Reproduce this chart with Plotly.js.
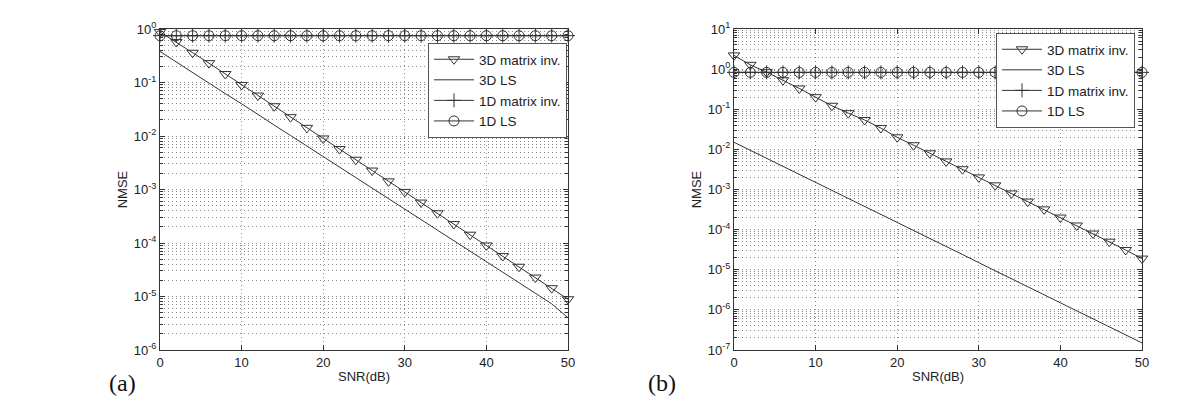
<!DOCTYPE html>
<html>
<head>
<meta charset="utf-8">
<script src="https://cdn.plot.ly/plotly-3.0.1.min.js"></script>
<style>html,body{margin:0;padding:0;background:#fff;}#chart{width:1200px;height:419px;}</style>
</head>
<body>
<div id="chart"></div>
<script>
// ---- data ----
const snr = [0,2,4,6,8,10,12,14,16,18,20,22,24,26,28,30,32,34,36,38,40,42,44,46,48,50];

// panel (a)
const a_3dMatrixInv = [0.88,0.57,0.36,0.23,0.144,0.090,0.057,0.036,0.0225,0.0142,0.0090,0.0057,0.0036,0.00226,0.00142,0.00090,0.00057,0.00036,0.000226,0.000143,0.000090,0.000057,0.000036,0.0000226,0.0000143,0.0000089];
const a_3dLS = [0.38,0.24,0.152,0.097,0.062,0.040,0.025,0.0160,0.0102,0.0065,0.0041,0.0026,0.00165,0.00106,0.00068,0.00044,0.00028,0.000175,0.000111,0.000071,0.000045,0.0000285,0.0000181,0.0000115,0.0000073,0.0000040];
const a_1dMatrixInv = [0.75,0.75,0.75,0.75,0.75,0.75,0.75,0.75,0.75,0.75,0.75,0.75,0.75,0.75,0.75,0.75,0.75,0.75,0.75,0.75,0.75,0.75,0.75,0.75,0.75,0.75];
const a_1dLS = [0.75,0.75,0.75,0.75,0.75,0.75,0.75,0.75,0.75,0.75,0.75,0.75,0.75,0.75,0.75,0.75,0.75,0.75,0.75,0.75,0.75,0.75,0.75,0.75,0.75,0.75];

// panel (b)
const b_3dMatrixInv = [2.2,1.28,0.84,0.53,0.33,0.20,0.122,0.080,0.054,0.034,0.020,0.0127,0.0080,0.0050,0.0032,0.0020,0.00127,0.00080,0.00050,0.00032,0.00020,0.000127,0.000080,0.000050,0.000031,0.000019];
const b_3dLS = [0.015,0.0095,0.006,0.0038,0.0024,0.0015,0.00095,0.0006,0.00038,0.00024,0.00015,0.000095,0.00006,0.000038,0.000024,0.000015,0.0000095,0.000006,0.0000038,0.0000024,0.0000015,0.00000095,0.0000006,0.00000038,0.00000024,0.00000015];
const b_1dMatrixInv = [0.83,0.83,0.83,0.83,0.83,0.83,0.83,0.83,0.83,0.83,0.83,0.83,0.83,0.83,0.83,0.83,0.83,0.83,0.83,0.83,0.83,0.83,0.83,0.83,0.83,0.83];
const b_1dLS = [0.83,0.83,0.83,0.83,0.83,0.83,0.83,0.83,0.83,0.83,0.83,0.83,0.83,0.83,0.83,0.83,0.83,0.83,0.83,0.83,0.83,0.83,0.83,0.83,0.83,0.83];

const seriesNames = ["3D matrix inv.", "3D LS", "1D matrix inv.", "1D LS"];
const xTicks = [0,10,20,30,40,50];
const aDecades = [-6,-5,-4,-3,-2,-1,0];
const bDecades = [-7,-6,-5,-4,-3,-2,-1,0,1];
const panelLabels = ["(a)", "(b)"];

// ---- styles ----
const LC = '#333333';
const FONT = 'Liberation Sans, Arial, sans-serif';

function makeTraces(xa, ya, leg, d) {
  return [
    {x: snr, y: d[0], name: seriesNames[0], xaxis: xa, yaxis: ya, legend: leg, mode: 'lines+markers', cliponaxis: false,
     line: {color: LC, width: 1}, marker: {symbol: 'triangle-down-open', size: 10, color: LC, line: {color: LC, width: 1}}},
    {x: snr, y: d[1], name: seriesNames[1], xaxis: xa, yaxis: ya, legend: leg, mode: 'lines', cliponaxis: false,
     line: {color: LC, width: 1}},
    {x: snr, y: d[2], name: seriesNames[2], xaxis: xa, yaxis: ya, legend: leg, mode: 'lines+markers', cliponaxis: false,
     line: {color: LC, width: 1}, marker: {symbol: 'cross-thin-open', size: 10, color: LC, line: {color: LC, width: 1}}},
    {x: snr, y: d[3], name: seriesNames[3], xaxis: xa, yaxis: ya, legend: leg, mode: 'lines+markers', cliponaxis: false,
     line: {color: LC, width: 1}, marker: {symbol: 'circle-open', size: 10, color: LC, line: {color: LC, width: 1}}}
  ];
}

const data = [].concat(
  makeTraces('x', 'y', 'legend', [a_3dMatrixInv, a_3dLS, a_1dMatrixInv, a_1dLS]),
  makeTraces('x2', 'y2', 'legend2', [b_3dMatrixInv, b_3dLS, b_1dMatrixInv, b_1dLS])
);

function decadeVals(dec) { return dec.map(p => Math.pow(10, p)); }
function decadeText(dec) { return dec.map(p => '10<sup>' + p + '</sup>'); }
function minorVals(dec) {
  const out = [];
  for (let i = 0; i < dec.length - 1; i++) for (let k = 2; k <= 9; k++) out.push(k * Math.pow(10, dec[i]));
  return out;
}

const GRIDC = '#8c8c8c';
const GDASH = '1px,3px';

function xAxis(domain, anchor) {
  return {
    domain: domain, anchor: anchor, range: [0, 50], tickmode: 'array', tickvals: xTicks,
    ticks: 'inside', ticklen: 5, tickcolor: LC, showline: true, linecolor: LC, linewidth: 1, mirror: 'ticks',
    showgrid: true, gridcolor: GRIDC, griddash: GDASH, gridwidth: 1, zeroline: false,
    tickfont: {family: FONT, size: 13, color: '#222'},
    title: {text: 'SNR(dB)', font: {family: FONT, size: 13, color: '#222'}, standoff: 3},
    automargin: false
  };
}
function yAxis(domain, anchor, dec) {
  return {
    domain: domain, anchor: anchor, type: 'log', range: [dec[0], dec[dec.length - 1]],
    tickmode: 'array', tickvals: decadeVals(dec), ticktext: decadeText(dec),
    ticks: 'inside', ticklen: 5, tickcolor: LC, showline: true, linecolor: LC, linewidth: 1, mirror: 'ticks',
    showgrid: true, gridcolor: GRIDC, griddash: GDASH, gridwidth: 1, zeroline: false,
    minor: {tickmode: 'array', tickvals: minorVals(dec), ticks: 'inside', ticklen: 3, tickcolor: LC,
            showgrid: true, gridcolor: GRIDC, griddash: GDASH, gridwidth: 1},
    tickfont: {family: FONT, size: 13, color: '#222'},
    title: {text: 'NMSE', font: {family: FONT, size: 13, color: '#222'}, standoff: 3},
    automargin: false
  };
}

const yDom = [69 / 419, 390 / 419];

const legendStyle = (x, y) => ({
  x: x, y: y, xanchor: 'right', yanchor: 'top', xref: 'paper', yref: 'paper',
  bgcolor: '#ffffff', bordercolor: '#555', borderwidth: 1, itemwidth: 40,
  font: {family: FONT, size: 13.5, color: '#222'}, tracegroupgap: 0, itemclick: false
});

const layout = {
  width: 1200, height: 419,
  margin: {l: 0, r: 0, t: 0, b: 0},
  paper_bgcolor: '#fff', plot_bgcolor: '#fff',
  showlegend: true,
  xaxis: xAxis([160 / 1200, 568 / 1200], 'y'),
  yaxis: yAxis(yDom, 'x', aDecades),
  xaxis2: xAxis([734 / 1200, 1142 / 1200], 'y2'),
  yaxis2: yAxis(yDom, 'x2', bDecades),
  legend: legendStyle(567 / 1200, (419 - 43) / 419),
  legend2: legendStyle(1135 / 1200, (419 - 33) / 419),
  annotations: [
    {text: panelLabels[0], xref: 'paper', yref: 'paper', x: 122 / 1200, y: (419 - 383) / 419, showarrow: false,
     xanchor: 'center', yanchor: 'middle', font: {family: 'Liberation Serif, Times New Roman, serif', size: 24, color: '#111'}},
    {text: panelLabels[1], xref: 'paper', yref: 'paper', x: 662 / 1200, y: (419 - 383) / 419, showarrow: false,
     xanchor: 'center', yanchor: 'middle', font: {family: 'Liberation Serif, Times New Roman, serif', size: 24, color: '#111'}}
  ]
};

Plotly.newPlot('chart', data, layout, {staticPlot: true, displayModeBar: false});
</script>
</body>
</html>
